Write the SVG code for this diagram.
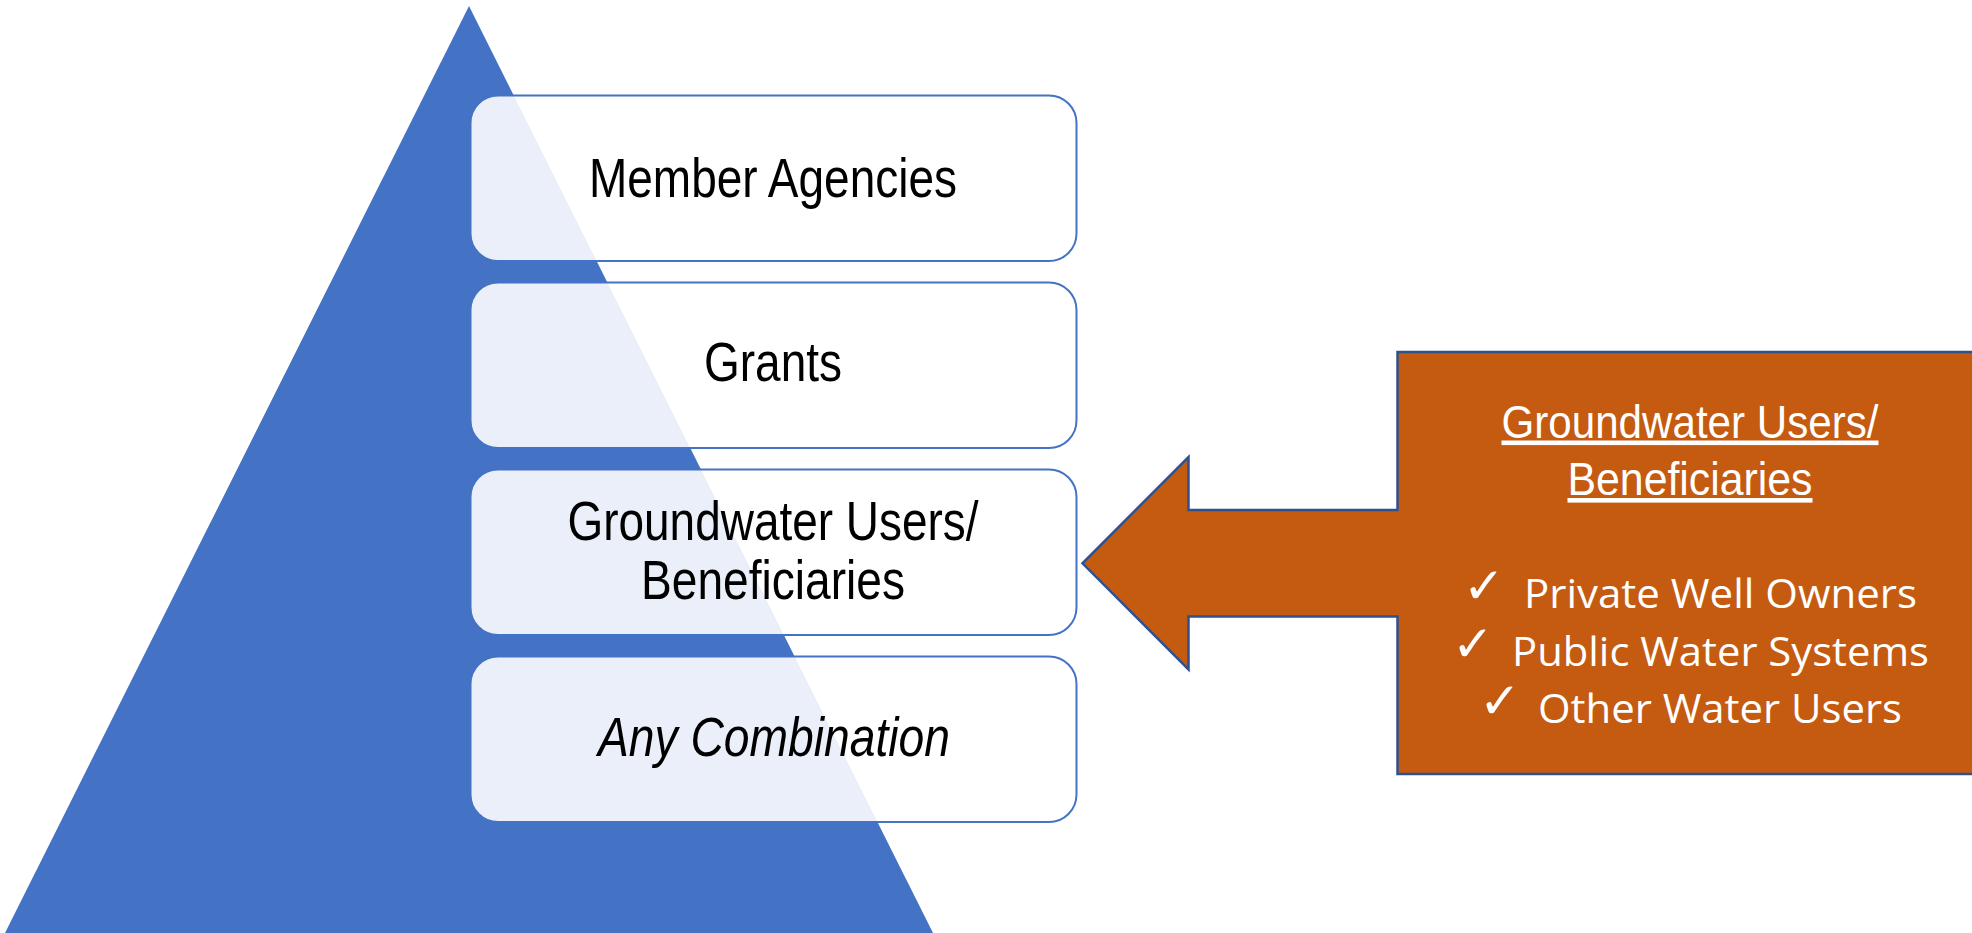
<svg xmlns="http://www.w3.org/2000/svg" width="1972" height="933" viewBox="0 0 1972 933">
<style>
.box{fill:#ffffff;fill-opacity:0.89;stroke:#4472C4;stroke-width:2}
.lbl{font-family:"Liberation Sans Narrow","Liberation Sans",Arial,sans-serif;font-size:56px;fill:#000000;text-anchor:middle}
.ttl{font-family:"Liberation Sans Narrow","Liberation Sans",Arial,sans-serif;font-size:46px;fill:#ffffff;text-anchor:middle;text-decoration:underline}
.item{font-family:"Open Sans","Liberation Sans",sans-serif;font-size:40px;fill:#ffffff}
.chk{font-family:"DejaVu Sans",sans-serif;font-size:50px;fill:#ffffff;font-weight:bold}
</style>
<rect width="1972" height="933" fill="#ffffff"/>
<g id="pyramid">
<polygon points="469,6 5,933 933,933" fill="#4472C4"/>
</g>
<g id="member-agencies">
<rect class="box" x="470.5" y="95.5" width="606" height="165.5" rx="27.5" ry="27.5"/>
<text class="lbl" x="773" y="197" textLength="368" lengthAdjust="spacingAndGlyphs">Member Agencies</text>
</g>
<g id="grants">
<rect class="box" x="470.5" y="282.5" width="606" height="165.5" rx="27.5" ry="27.5"/>
<text class="lbl" x="773" y="381" textLength="138" lengthAdjust="spacingAndGlyphs">Grants</text>
</g>
<g id="groundwater-users">
<rect class="box" x="470.5" y="469.5" width="606" height="165.5" rx="27.5" ry="27.5"/>
<text class="lbl" x="773" y="539.5" textLength="411" lengthAdjust="spacingAndGlyphs">Groundwater Users/</text>
<text class="lbl" x="773" y="598.5" textLength="264" lengthAdjust="spacingAndGlyphs">Beneficiaries</text>
</g>
<g id="any-combination">
<rect class="box" x="470.5" y="656.5" width="606" height="165.5" rx="27.5" ry="27.5"/>
<text class="lbl" x="774" y="756" font-style="italic" textLength="352" lengthAdjust="spacingAndGlyphs">Any Combination</text>
</g>
<g id="connectors">
<g id="callout">
<path d="M1397.5,352 L1990,352 L1990,774 L1397.5,774 L1397.5,616.5 L1188.5,616.5 L1188.5,669.5 L1082.5,563.3 L1188.5,457 L1188.5,510 L1397.5,510 Z" fill="#C55A11" stroke="#2F528F" stroke-width="2.5" stroke-linejoin="miter"/>
<text class="ttl" x="1690" y="437.5" textLength="377" lengthAdjust="spacingAndGlyphs">Groundwater Users/</text>
<text class="ttl" x="1690" y="495" textLength="245" lengthAdjust="spacingAndGlyphs">Beneficiaries</text>
<text class="chk" x="1463" y="603">✓</text>
<text class="item" x="1524" y="607.5" textLength="393" lengthAdjust="spacingAndGlyphs">Private Well Owners</text>
<text class="chk" x="1452" y="660.5">✓</text>
<text class="item" x="1512" y="665.5" textLength="417" lengthAdjust="spacingAndGlyphs">Public Water Systems</text>
<text class="chk" x="1479" y="718">✓</text>
<text class="item" x="1538" y="722.5" textLength="364" lengthAdjust="spacingAndGlyphs">Other Water Users</text>
</g>
</g>
</svg>
